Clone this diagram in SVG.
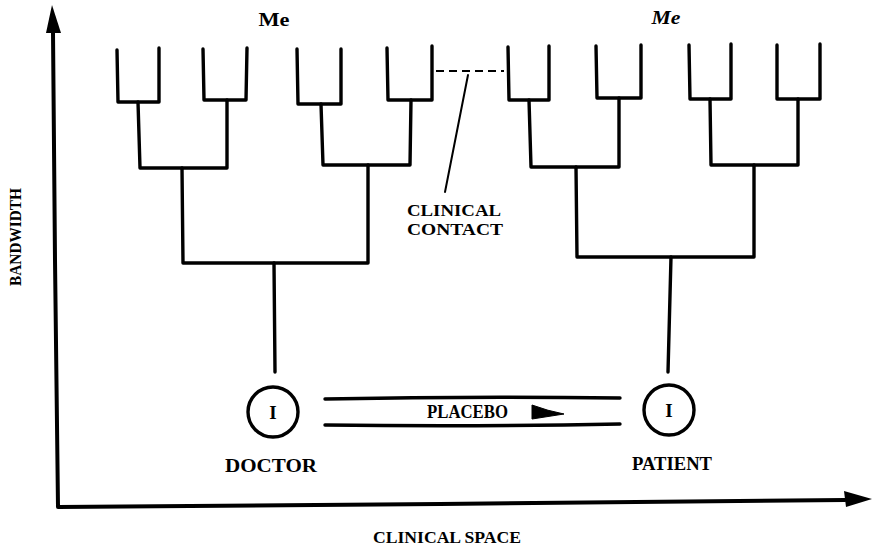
<svg xmlns="http://www.w3.org/2000/svg" width="876" height="548" viewBox="0 0 876 548">
  <defs>
    <style>
      .ln { fill: none; stroke: #000; stroke-width: 3.4; stroke-linecap: round; stroke-linejoin: round; }
      .ax { fill: none; stroke: #000; stroke-width: 4; stroke-linecap: round; stroke-linejoin: round; }
      .thin { fill: none; stroke: #000; stroke-width: 2; stroke-linecap: round; }
      .dash { fill: none; stroke: #000; stroke-width: 2; stroke-dasharray: 8 5; }
      .lbl { font-family: "Liberation Serif", "DejaVu Serif", serif; font-weight: bold; fill: #000; }
    </style>
  </defs>
  <rect width="876" height="548" fill="#fff"/>

  <!-- axes -->
  <g id="axes">
    <path class="ax" d="M53,32 L55,260 L58,507 L440,504 L845,500"/>
    <path d="M52,5 L61,33 L46,33 Z" fill="#000"/>
    <path d="M872,499 L844,491 L846,507 Z" fill="#000"/>
    <text class="lbl" x="0" y="0" font-size="17" text-anchor="middle" transform="translate(21,237) rotate(-90)" textLength="98" lengthAdjust="spacingAndGlyphs">BANDWIDTH</text>
    <text class="lbl" x="447" y="543" font-size="16" text-anchor="middle" textLength="148" lengthAdjust="spacingAndGlyphs">CLINICAL SPACE</text>
  </g>

  <!-- doctor's tree -->
  <g id="tree-doctor">
    <text class="lbl" x="274" y="26" font-size="19" text-anchor="middle" textLength="31" lengthAdjust="spacingAndGlyphs">Me</text>
    <path class="ln" d="M117,50 L118,102 L159,102 L159,48"/>
    <path class="ln" d="M203,49 L204,100 L246,100 L247,48"/>
    <path class="ln" d="M297,49 L298,104 L341,104 L341,49"/>
    <path class="ln" d="M387,48 L388,100 L432,100 L432,46"/>
    <path class="ln" d="M138,102 L140,168 L227,168 L227,100"/>
    <path class="ln" d="M321,104 L323,165 L410,165 L411,100"/>
    <path class="ln" d="M182,168 L183,263 L368,263 L368,165"/>
    <path class="ln" d="M274,263 L275,372"/>
  </g>

  <!-- patient's tree -->
  <g id="tree-patient">
    <text class="lbl" x="666" y="24" font-size="19" font-style="italic" text-anchor="middle" textLength="29" lengthAdjust="spacingAndGlyphs">Me</text>
    <path class="ln" d="M508,47 L509,100 L549,100 L549,46"/>
    <path class="ln" d="M596,46 L597,98 L641,98 L641,45"/>
    <path class="ln" d="M689,45 L690,99 L731,99 L731,44"/>
    <path class="ln" d="M777,45 L777,99 L820,99 L820,44"/>
    <path class="ln" d="M529,100 L531,167 L619,167 L619,98"/>
    <path class="ln" d="M710,99 L711,165 L798,165 L798,99"/>
    <path class="ln" d="M576,167 L577,257 L754,257 L754,165"/>
    <path class="ln" d="M671,257 L668,372"/>
  </g>

  <!-- doctor node -->
  <g id="doctor">
    <circle class="ln" cx="273" cy="412" r="25"/>
    <text class="lbl" x="273" y="419" font-size="19" text-anchor="middle">I</text>
    <text class="lbl" x="271" y="472" font-size="18" text-anchor="middle" textLength="92" lengthAdjust="spacingAndGlyphs">DOCTOR</text>
  </g>

  <!-- patient node -->
  <g id="patient">
    <circle class="ln" cx="669" cy="410" r="25"/>
    <text class="lbl" x="669" y="417" font-size="19" text-anchor="middle">I</text>
    <text class="lbl" x="672" y="470" font-size="18" text-anchor="middle" textLength="80" lengthAdjust="spacingAndGlyphs">PATIENT</text>
  </g>

  <!-- connectors -->
  <g id="connectors">
    <!-- placebo channel -->
    <path class="ln" d="M325,399 Q470,396 620,398"/>
    <path class="ln" d="M325,425 Q470,427 620,424"/>
    <text class="lbl" x="427" y="418" font-size="18" textLength="81" lengthAdjust="spacingAndGlyphs">PLACEBO</text>
    <path d="M532,405 Q548,411 564,414 L532,419 Z" fill="#000" stroke="#000" stroke-width="1" stroke-linejoin="round"/>
    <!-- clinical contact -->
    <path class="dash" d="M436,71 L504,71"/>
    <path class="thin" d="M468,75 L445,192"/>
    <text class="lbl" x="407" y="216" font-size="16.5" textLength="94" lengthAdjust="spacingAndGlyphs">CLINICAL</text>
    <text class="lbl" x="407" y="235" font-size="16.5" textLength="96" lengthAdjust="spacingAndGlyphs">CONTACT</text>
  </g>
</svg>
